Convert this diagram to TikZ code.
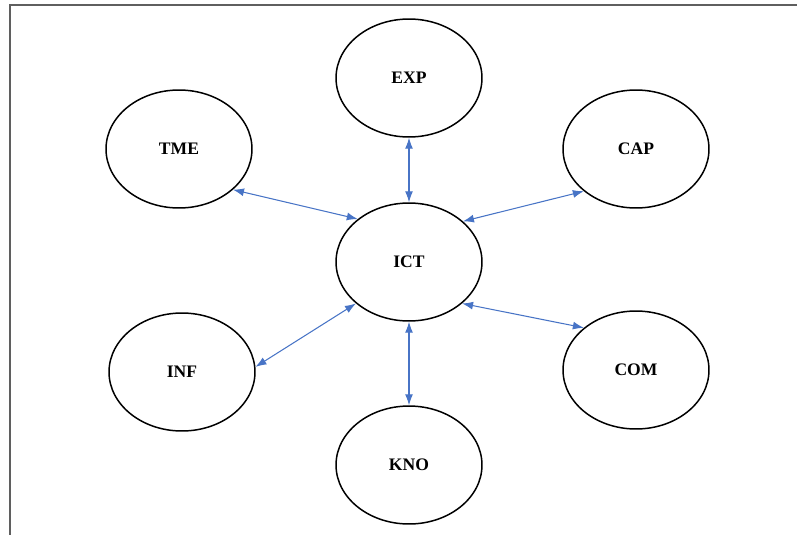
\documentclass[tikz,border=0pt]{standalone}
\usepackage{fontspec}
\setmainfont{Liberation Serif}
\usepackage{tikz}
\usetikzlibrary{shapes.geometric}
\usetikzlibrary{arrows.meta}
\definecolor{linkblue}{RGB}{72,116,198}
\definecolor{framegray}{RGB}{95,95,95}

\begin{document}
\begin{tikzpicture}[x=0.02cm,y=-0.02cm,
  every node/.style={ellipse,draw=black,line width=0.85pt,minimum width=2.92cm,minimum height=2.36cm,inner sep=0pt,font=\bfseries},
  link/.style={{Latex[length=2.2mm,width=1.6mm]}-{Latex[length=2.2mm,width=1.6mm]},linkblue,line width=0.6pt}]
\clip (0,0) rectangle (797,534);
\draw[framegray,line width=1.1pt] (10,545) |- (805,5);
% the outer topics round ICT
\node (exp) at (409,78) {EXP};
\node (tme) at (179,149) {TME};
\node (cap) at (636,149) {CAP};
\node (ict) at (409,262) {ICT};
\node (inf) at (182,372) {INF};
\node (com) at (636,370) {COM};
\node (kno) at (409,465) {KNO};
% links
\draw[link] (exp.south) -- (ict.north);
\draw[link] (tme.-37) -- (ict.140);
\draw[link] (cap.-141) -- (ict.37);
\draw[link] (inf.4) -- (ict.-142);
\draw[link] (com.141) -- (ict.-38);
\draw[link] (ict.south) -- (kno.north);
\end{tikzpicture}
\end{document}
